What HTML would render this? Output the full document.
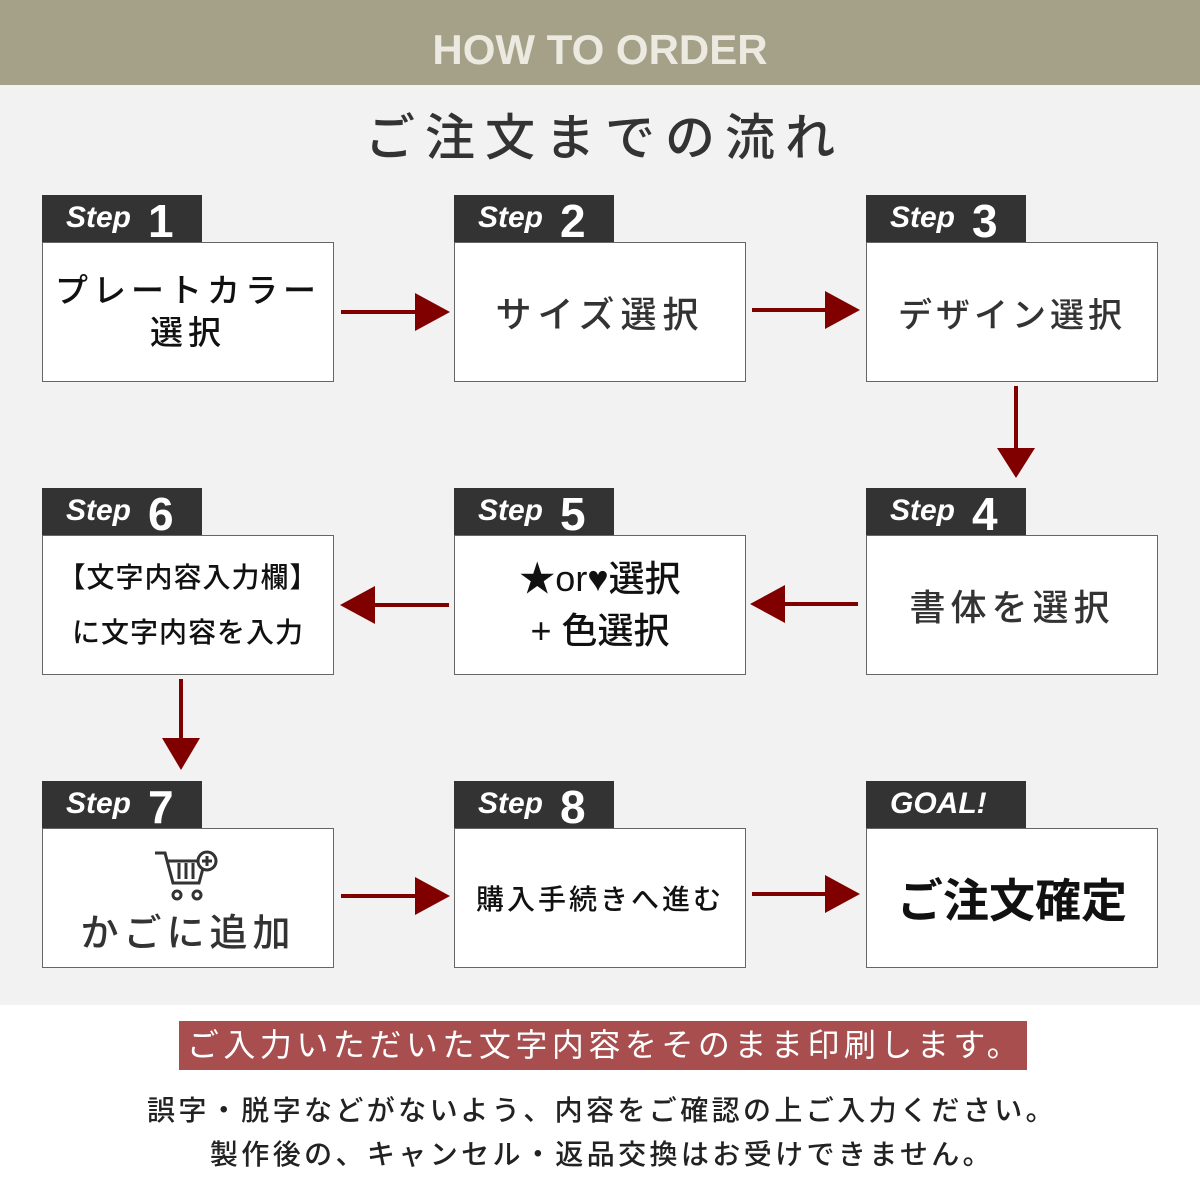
<!DOCTYPE html>
<html><head><meta charset="utf-8"><style>
*{margin:0;padding:0;box-sizing:border-box}
body{width:1200px;height:1200px;position:relative;background:#fff;font-family:"Liberation Sans","Noto Sans CJK JP",sans-serif;overflow:hidden}
.a{position:absolute}
.tab{position:absolute;width:160px;height:48px;background:#333;color:#fff;font-weight:bold}
.tab .s{position:absolute;left:24px;top:6px;font-size:30px;font-style:italic}
.tab .n{position:absolute;left:106px;top:-1px;font-size:46px}
.box{position:absolute;width:292px;height:140px;background:#fff;border:1px solid #666;display:flex;align-items:center;justify-content:center;text-align:center;color:#222;font-weight:500}
</style></head><body>
<div class="a" style="left:0;top:0;width:1200px;height:85px;background:#a4a188;color:#eceae0;font-weight:bold;font-size:42px;text-align:center;line-height:100px">HOW TO ORDER</div>
<div class="a" style="left:0;top:85px;width:1200px;height:920px;background:#f2f2f2"></div>
<div class="a" style="left:5px;top:98px;width:1200px;text-align:center;font-size:50px;color:#333;letter-spacing:10px;font-weight:500">ご注文までの流れ</div>

<div class="tab" style="left:42px;top:195px"><span class="s">Step</span><span class="n">1</span></div>
<div class="box" style="left:42px;top:242px;font-size:33px;line-height:42px;letter-spacing:5px;color:#111">プレートカラー<br>選択</div>
<div class="tab" style="left:454px;top:195px"><span class="s">Step</span><span class="n">2</span></div>
<div class="box" style="left:454px;top:242px;font-size:36px;letter-spacing:6px;color:#333">サイズ選択</div>
<div class="tab" style="left:866px;top:195px"><span class="s">Step</span><span class="n">3</span></div>
<div class="box" style="left:866px;top:242px;font-size:34px;letter-spacing:4px;color:#333">デザイン選択</div>

<div class="tab" style="left:42px;top:488px"><span class="s">Step</span><span class="n">6</span></div>
<div class="box" style="left:42px;top:535px;font-size:28px;line-height:55px;color:#111;letter-spacing:1px">【文字内容入力欄】<br>に文字内容を入力</div>
<div class="tab" style="left:454px;top:488px"><span class="s">Step</span><span class="n">5</span></div>
<div class="box" style="left:454px;top:535px;font-size:36px;line-height:52px;color:#111">★or♥選択<br>+ 色選択</div>
<div class="tab" style="left:866px;top:488px"><span class="s">Step</span><span class="n">4</span></div>
<div class="box" style="left:866px;top:535px;font-size:36px;letter-spacing:5px;color:#333">書体を選択</div>

<div class="tab" style="left:42px;top:781px"><span class="s">Step</span><span class="n">7</span></div>
<div class="box" style="left:42px;top:828px;font-size:38px;letter-spacing:5px;color:#333;flex-direction:column;padding-top:10px">
<svg width="70" height="55" viewBox="0 0 70 55"><g fill="none" stroke="#333" stroke-width="3"><path d="M2 4h10l8 30h26l6-22H14"/><path d="M26 14v16M33 14v16M40 14v16"/><circle cx="24" cy="46" r="4"/><circle cx="44" cy="46" r="4"/><circle cx="54" cy="12" r="9" fill="#fff"/><path d="M54 7v10M49 12h10"/></g></svg>
<div style="margin-top:-2px">かごに追加</div></div>
<div class="tab" style="left:454px;top:781px"><span class="s">Step</span><span class="n">8</span></div>
<div class="box" style="left:454px;top:828px;font-size:28px;color:#111;letter-spacing:3px">購入手続きへ進む</div>
<div class="tab" style="left:866px;top:781px"><span class="s" style="left:24px">GOAL!</span></div>
<div class="box" style="left:866px;top:828px;font-size:46px;font-weight:bold;color:#111">ご注文確定</div>

<svg class="a" style="left:0;top:0" width="1200" height="1005">
<g fill="#800000" stroke="#800000">
<line x1="341" y1="312" x2="418" y2="312" stroke-width="4"/><polygon points="415,293 450,312 415,331" stroke="none"/>
<line x1="752" y1="310" x2="828" y2="310" stroke-width="4"/><polygon points="825,291 860,310 825,329" stroke="none"/>
<line x1="1016" y1="386" x2="1016" y2="452" stroke-width="4"/><polygon points="997,448 1035,448 1016,478" stroke="none"/>
<line x1="858" y1="604" x2="782" y2="604" stroke-width="4"/><polygon points="785,585 750,604 785,623" stroke="none"/>
<line x1="449" y1="605" x2="372" y2="605" stroke-width="4"/><polygon points="375,586 340,605 375,624" stroke="none"/>
<line x1="181" y1="679" x2="181" y2="742" stroke-width="4"/><polygon points="162,738 200,738 181,770" stroke="none"/>
<line x1="341" y1="896" x2="418" y2="896" stroke-width="4"/><polygon points="415,877 450,896 415,915" stroke="none"/>
<line x1="752" y1="894" x2="828" y2="894" stroke-width="4"/><polygon points="825,875 860,894 825,913" stroke="none"/>
</g></svg>

<div class="a" style="left:179px;top:1021px;width:848px;height:49px;background:#a84e4e;color:#fff;font-size:32px;text-align:center;line-height:49px;letter-spacing:4.5px;padding-left:4px">ご入力いただいた文字内容をそのまま印刷します。</div>
<div class="a" style="left:2px;top:1089px;width:1200px;text-align:center;font-size:28px;color:#222;line-height:44px;letter-spacing:3.4px;font-weight:500">誤字・脱字などがないよう、内容をご確認の上ご入力ください。<br>製作後の、キャンセル・返品交換はお受けできません。</div>
</body></html>
